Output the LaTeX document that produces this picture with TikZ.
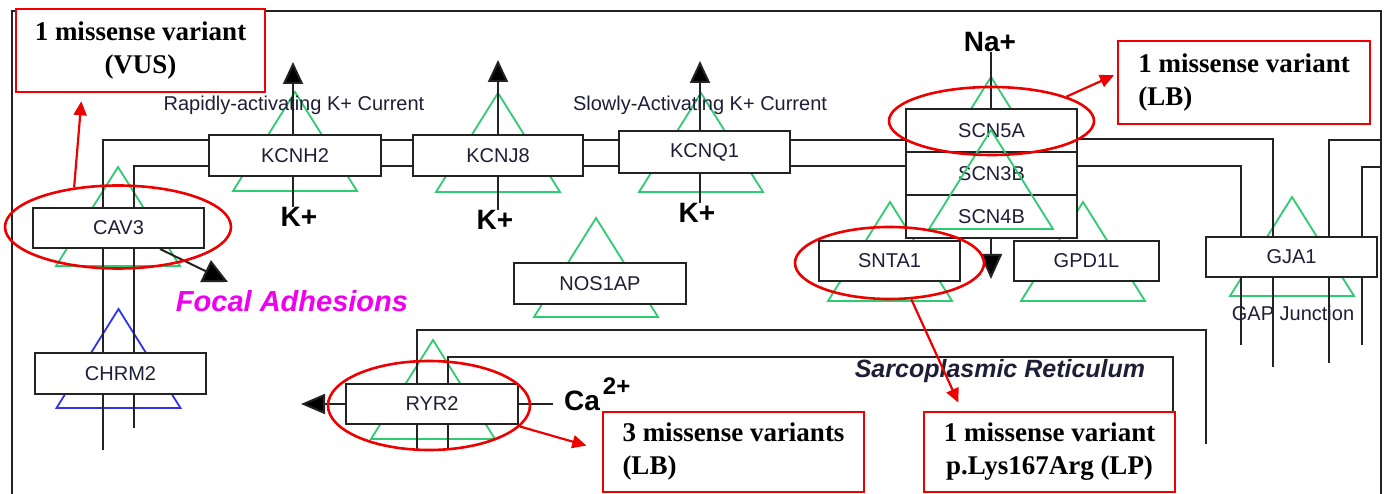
\documentclass[tikz,border=0pt]{standalone}
\usepackage{fontspec}
\setmainfont{Liberation Serif}
\setsansfont{Liberation Sans}
\usetikzlibrary{arrows.meta,shapes.geometric}
\pgfdeclarelayer{bg}
\pgfsetlayers{bg,main}
\definecolor{tgreen}{RGB}{46,204,113}
\definecolor{tblue}{RGB}{50,50,235}
\definecolor{txt}{RGB}{30,30,55}
\definecolor{mag}{RGB}{240,0,240}
\definecolor{vred}{RGB}{238,0,0}
\definecolor{lin}{RGB}{35,35,35}
\newcommand{\memtri}[3]{\draw[#3] (#1,#2) -- ++(62,99) -- ++(-124,0) -- cycle;}
\begin{document}
\begin{tikzpicture}[x=1pt,y=-1pt,
  gene/.style={draw=lin, line width=2pt, fill=white, font=\sffamily\fontsize{20}{24}\selectfont, text=txt, inner sep=0pt},
  ion/.style={font=\sffamily\bfseries\fontsize{28}{32}\selectfont, inner sep=0pt, text=black},
  lbl/.style={font=\sffamily\fontsize{20}{24}\selectfont, text=txt, inner sep=0pt},
  memb/.style={draw=lin, line width=2pt},
  gtri/.style={draw=tgreen, line width=1.8pt},
  btri/.style={draw=tblue, line width=1.8pt},
  hl/.style={ellipse, draw=vred, line width=2.6pt, inner sep=0pt},
  note/.style={draw=vred, line width=2.6pt, fill=white, text=black, font=\bfseries\fontsize{27}{33}\selectfont, inner sep=0pt},
  redarrow/.style={draw=vred, line width=2.2pt, -{Triangle[length=14pt,width=13pt]}},
  bigarrow/.style={draw=lin, line width=2pt, -{Triangle[length=22pt,width=20pt,fill=black]}},
]
\useasboundingbox (0,0) rectangle (1384,494);

% gene boxes
\node[gene, minimum width=172pt, minimum height=41pt] (kcnh2) at (295,155.5) {KCNH2};
\node[gene, minimum width=170pt, minimum height=41pt] (kcnj8) at (498,155.5) {KCNJ8};
\node[gene, minimum width=171pt, minimum height=42pt] (kcnq1) at (704.5,152) {KCNQ1};
\node[gene, minimum width=171pt, minimum height=43pt] (scn5a) at (991.5,130.5) {SCN5A};
\node[gene, minimum width=171pt, minimum height=43pt] (scn3b) at (991.5,173.5) {SCN3B};
\node[gene, minimum width=171pt, minimum height=43pt] (scn4b) at (991.5,216.5) {SCN4B};
\node[gene, minimum width=171pt, minimum height=40pt] (cav3) at (118.5,228) {CAV3};
\node[gene, minimum width=171pt, minimum height=41pt] (chrm2) at (120.5,373.5) {CHRM2};
\node[gene, minimum width=172pt, minimum height=41pt] (nos1ap) at (600,283.5) {NOS1AP};
\node[gene, minimum width=141pt, minimum height=40pt] (snta1) at (889.5,261) {SNTA1};
\node[gene, minimum width=145pt, minimum height=40pt] (gpd1l) at (1086.5,261) {GPD1L};
\node[gene, minimum width=171pt, minimum height=40pt] (gja1) at (1291.5,257) {GJA1};
\node[gene, minimum width=172pt, minimum height=40pt] (ryr2) at (432,404) {RYR2};

% triangle drawn over the sodium channel stack
\memtri{991}{130}{gtri}

% labels
\node[lbl] (rapid) at (294,105) {Rapidly-activating K+ Current};
\node[lbl] (slow) at (700,105) {Slowly-Activating K+ Current};
\node[lbl] (gap) at (1293,313) {GAP Junction};
\node[ion] (k1) at (299,217) {K+};
\node[ion] (k2) at (495,220) {K+};
\node[ion] (k3) at (697,213) {K+};
\node[ion] (na) at (990,42) {Na+};
\node[ion, anchor=base west] (ca) at (564,410) {Ca\kern3pt\raisebox{16pt}{\fontsize{24}{24}\selectfont 2+}};
\node[font=\sffamily\bfseries\itshape\fontsize{29}{32}\selectfont, text=mag, inner sep=0pt] (focal) at (292,301) {Focal Adhesions};
\node[font=\sffamily\bfseries\itshape\fontsize{25}{28}\selectfont, text=txt, inner sep=0pt] (sr) at (1000,371) {Sarcoplasmic Reticulum};

% highlight ellipses
\node[hl, minimum width=226pt, minimum height=83pt] (ecav3) at (118,227) {};
\node[hl, minimum width=205pt, minimum height=68pt] (escn5a) at (991.5,121) {};
\node[hl, minimum width=189pt, minimum height=72pt] (esnta1) at (889.5,263) {};
\node[hl, minimum width=202pt, minimum height=89pt] (eryr2) at (429,405.5) {};

% annotation boxes
\node[note, minimum width=249pt, minimum height=83pt, align=center] (n1) at (140.5,50.5) {1 missense variant\\(VUS)};
\node[note, minimum width=252pt, minimum height=83pt, align=left] (n2) at (1244,82.5) {1 missense variant\\(LB)};
\node[note, minimum width=251pt, minimum height=80pt, align=center] (n3) at (1049.5,452) {1 missense variant\\p.Lys167Arg (LP)};
\node[note, minimum width=261pt, minimum height=80pt, align=left] (n4) at (733.5,452) {3 missense variants\\(LB)};

% red arrows
\draw[redarrow, shorten >=8pt] (ecav3.138) -- (82,0 |- n1.south);
\draw[redarrow, shorten >=3pt] (escn5a.18) -- (n2.west |- 0,74);
\draw[redarrow, shorten >=9pt] (esnta1.-59) -- (962,0 |- n3.north);
\draw[redarrow, shorten >=16pt] (eryr2.-13) -- (n4.west |- 0,450);

\begin{pgfonlayer}{bg}
\fill[white] (0,0) rectangle (1384,494);
% frame
\draw[memb] (12,494) -- (12,11) -- (1381,11) -- (1381,494);
% triangles
\memtri{118}{167}{gtri}
\memtri{118.5}{309}{btri}
\memtri{295}{92}{gtri}
\memtri{498}{93}{gtri}
\memtri{701}{93}{gtri}
\memtri{991}{77}{gtri}
\memtri{890}{202}{gtri}
\memtri{1083}{202}{gtri}
\memtri{596}{218}{gtri}
\memtri{1292}{197}{gtri}
\memtri{433}{340}{gtri}
% membrane
\coordinate (fr1) at (1381,140);
\coordinate (fr2) at (1381,167);
\draw[memb] (103,0 |- cav3.north) |- (kcnh2.west |- 0,140);
\draw[memb] (134,0 |- cav3.north) |- (kcnh2.west |- 0,166);
\draw[memb] (kcnh2.east |- 0,140) -- (kcnj8.west |- 0,140);
\draw[memb] (kcnh2.east |- 0,166) -- (kcnj8.west |- 0,166);
\draw[memb] (kcnj8.east |- 0,140) -- (kcnq1.west |- 0,140);
\draw[memb] (kcnj8.east |- 0,166) -- (kcnq1.west |- 0,166);
\draw[memb] (kcnq1.east |- 0,140) -- (scn5a.west |- 0,140);
\draw[memb] (kcnq1.east |- 0,166) -- (scn3b.west |- 0,166);
\draw[memb] (scn5a.east |- 0,139) -| (1273,0 |- gja1.north);
\draw[memb] (scn3b.east |- 0,166) -| (1241,0 |- gja1.north);
\draw[memb] (1329,0 |- gja1.north) |- (fr1);
\draw[memb] (1362,0 |- gja1.north) |- (fr2);
\draw[memb] (1241,0 |- gja1.south) -- (1241,345);
\draw[memb] (1273,0 |- gja1.south) -- (1273,367);
\draw[memb] (1329,0 |- gja1.south) -- (1329,363);
\draw[memb] (1362,0 |- gja1.south) -- (1362,345);
\draw[memb] (103,0 |- cav3.south) -- (103,450);
\draw[memb] (134,0 |- cav3.south) -- (134,428);
% sarcoplasmic reticulum
\draw[memb] (417,0 |- ryr2.north) |- (1206,330) -- (1206,444);
\draw[memb] (448,0 |- ryr2.north) |- (1173,357) -- (1173,0 |- n3.north);
\draw[memb] (417,0 |- ryr2.south) -- (417,450);
\draw[memb] (448,0 |- ryr2.south) -- (448,450);
% ion flows
\draw[bigarrow] (k1.north -| 293,0) -- (293,62);
\draw[bigarrow] (k2.north -| 498,0) -- (498,60);
\draw[bigarrow] (k3.north -| 700,0) -- (700,61);
\draw[memb] (na.south -| 991,0) -- (991,0 |- scn5a.north);
\draw[bigarrow, -{Triangle[length=25pt,width=22pt,fill=black]}] (991,0 |- scn4b.south) -- (991,279);
\coordinate (fatip) at (228,282);
\draw[bigarrow, -{Triangle[length=25pt,width=24pt,fill=black]}] (160,0 |- cav3.south) -- (fatip);
\draw[bigarrow, -{Triangle[length=24pt,width=20pt,fill=black]}] (ryr2.west) -- (301,0 |- ryr2.west);
\draw[memb] (ryr2.east) -- (553,0 |- ryr2.east);
\end{pgfonlayer}
\end{tikzpicture}
\end{document}
